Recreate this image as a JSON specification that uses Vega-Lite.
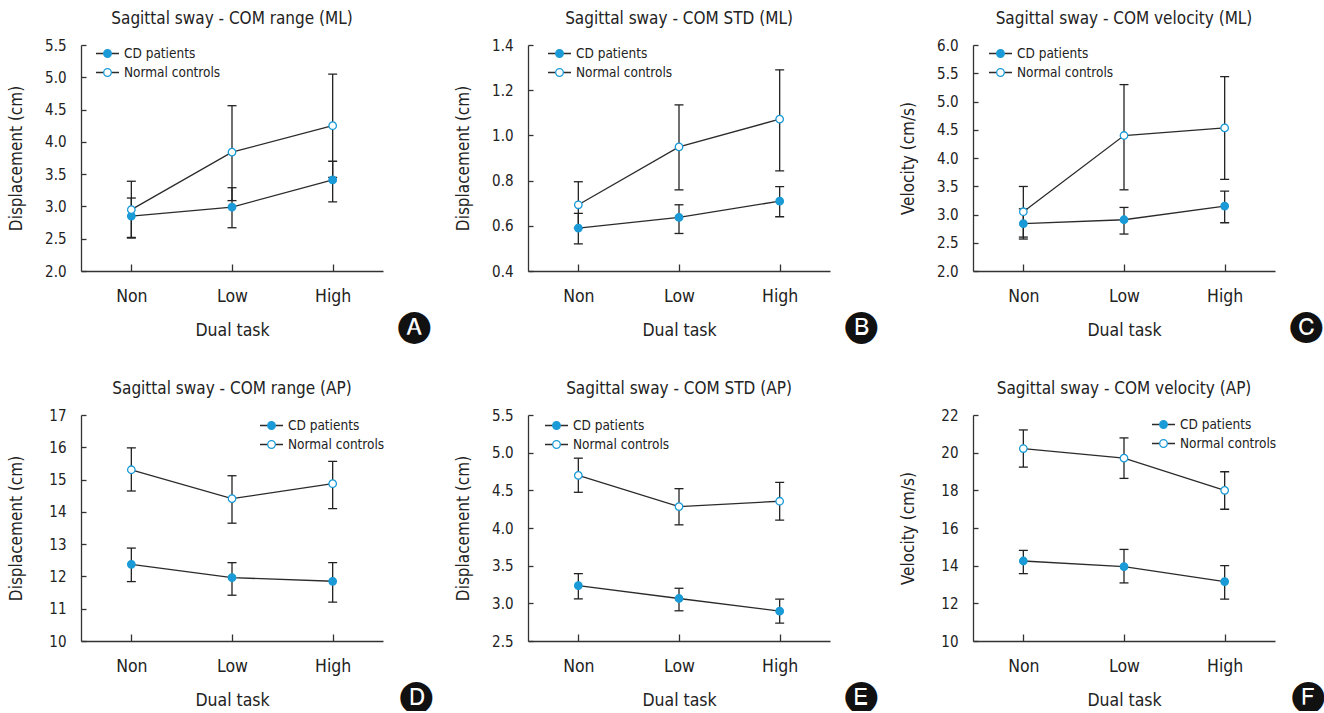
{
  "$schema": "https://vega.github.io/schema/vega-lite/v6.json",
  "background": "white",
  "padding": {"left": 7, "top": 10, "right": 0, "bottom": 0},
  "config": {
    "font": "DejaVu Sans Condensed, sans-serif",
    "view": {"stroke": null},
    "axis": {"grid": false, "domainColor": "#333", "domainWidth": 1.3, "tickColor": "#333", "tickWidth": 1.3, "labelColor": "#222", "titleColor": "#222", "titleFontWeight": "normal", "labelOverlap": false},
    "axisY": {"tickSize": -5, "labelFontSize": 15, "labelPadding": 20, "titleFontSize": 17, "titlePadding": 16, "minExtent": 40, "maxExtent": 40, "labelOverlap": false},
    "axisX": {"tickSize": -7, "labelFontSize": 17.5, "labelAngle": 0, "labelPadding": 23, "titleFontSize": 17.5, "titlePadding": 17},
    "axisQuantitative": {"labelOverlap": false},
    "title": {"fontSize": 17, "fontWeight": "normal", "color": "#222", "offset": 10, "frame": "group"},
    "legend": {"labelFontSize": 13.5, "labelColor": "#222", "rowPadding": -1}
  },
  "datasets": {
    "d": [
      {"panel": "A", "task": "Non", "group": "CD patients", "mean": 2.85, "lower": 2.52, "upper": 3.13},
      {"panel": "A", "task": "Low", "group": "CD patients", "mean": 2.99, "lower": 2.67, "upper": 3.29},
      {"panel": "A", "task": "High", "group": "CD patients", "mean": 3.41, "lower": 3.07, "upper": 3.70},
      {"panel": "A", "task": "Non", "group": "Normal controls", "mean": 2.95, "lower": 2.51, "upper": 3.39},
      {"panel": "A", "task": "Low", "group": "Normal controls", "mean": 3.84, "lower": 3.09, "upper": 4.56},
      {"panel": "A", "task": "High", "group": "Normal controls", "mean": 4.25, "lower": 3.45, "upper": 5.05},
      {"panel": "B", "task": "Non", "group": "CD patients", "mean": 0.59, "lower": 0.52, "upper": 0.655},
      {"panel": "B", "task": "Low", "group": "CD patients", "mean": 0.637, "lower": 0.566, "upper": 0.693},
      {"panel": "B", "task": "High", "group": "CD patients", "mean": 0.709, "lower": 0.64, "upper": 0.773},
      {"panel": "B", "task": "Non", "group": "Normal controls", "mean": 0.693, "lower": 0.59, "upper": 0.795},
      {"panel": "B", "task": "Low", "group": "Normal controls", "mean": 0.949, "lower": 0.759, "upper": 1.135},
      {"panel": "B", "task": "High", "group": "Normal controls", "mean": 1.072, "lower": 0.843, "upper": 1.29},
      {"panel": "C", "task": "Non", "group": "CD patients", "mean": 2.837, "lower": 2.566, "upper": 3.10},
      {"panel": "C", "task": "Low", "group": "CD patients", "mean": 2.907, "lower": 2.654, "upper": 3.125},
      {"panel": "C", "task": "High", "group": "CD patients", "mean": 3.149, "lower": 2.854, "upper": 3.414},
      {"panel": "C", "task": "Non", "group": "Normal controls", "mean": 3.049, "lower": 2.60, "upper": 3.496},
      {"panel": "C", "task": "Low", "group": "Normal controls", "mean": 4.398, "lower": 3.437, "upper": 5.299},
      {"panel": "C", "task": "High", "group": "Normal controls", "mean": 4.533, "lower": 3.62, "upper": 5.44},
      {"panel": "D", "task": "Non", "group": "CD patients", "mean": 12.374, "lower": 11.84, "upper": 12.878},
      {"panel": "D", "task": "Low", "group": "CD patients", "mean": 11.963, "lower": 11.418, "upper": 12.426},
      {"panel": "D", "task": "High", "group": "CD patients", "mean": 11.85, "lower": 11.203, "upper": 12.426},
      {"panel": "D", "task": "Non", "group": "Normal controls", "mean": 15.304, "lower": 14.646, "upper": 15.982},
      {"panel": "D", "task": "Low", "group": "Normal controls", "mean": 14.41, "lower": 13.649, "upper": 15.119},
      {"panel": "D", "task": "High", "group": "Normal controls", "mean": 14.872, "lower": 14.101, "upper": 15.561},
      {"panel": "E", "task": "Non", "group": "CD patients", "mean": 3.236, "lower": 3.059, "upper": 3.394},
      {"panel": "E", "task": "Low", "group": "CD patients", "mean": 3.064, "lower": 2.901, "upper": 3.2},
      {"panel": "E", "task": "High", "group": "CD patients", "mean": 2.896, "lower": 2.738, "upper": 3.055},
      {"panel": "E", "task": "Non", "group": "Normal controls", "mean": 4.698, "lower": 4.474, "upper": 4.927},
      {"panel": "E", "task": "Low", "group": "Normal controls", "mean": 4.284, "lower": 4.042, "upper": 4.522},
      {"panel": "E", "task": "High", "group": "Normal controls", "mean": 4.355, "lower": 4.104, "upper": 4.606},
      {"panel": "F", "task": "Non", "group": "CD patients", "mean": 14.247, "lower": 13.577, "upper": 14.811},
      {"panel": "F", "task": "Low", "group": "CD patients", "mean": 13.947, "lower": 13.084, "upper": 14.863},
      {"panel": "F", "task": "High", "group": "CD patients", "mean": 13.154, "lower": 12.22, "upper": 14.0},
      {"panel": "F", "task": "Non", "group": "Normal controls", "mean": 20.22, "lower": 19.233, "upper": 21.207},
      {"panel": "F", "task": "Low", "group": "Normal controls", "mean": 19.709, "lower": 18.634, "upper": 20.784},
      {"panel": "F", "task": "High", "group": "Normal controls", "mean": 18.0, "lower": 16.996, "upper": 18.987}
    ]
  },
  "columns": 3,
  "spacing": {"column": 21, "row": 39},
  "resolve": {"scale": {"fill": "independent", "opacity": "independent"}, "legend": {"fill": "independent", "opacity": "independent"}},
  "concat": [
    {
      "title": {"text": "🅐", "orient": "bottom", "anchor": "end", "frame": "bounds", "font": "DejaVu Sans", "fontSize": 32, "color": "#111", "dx": 48, "dy": -29, "offset": 0},
      "vconcat": [{
        "width": 302, "height": 226,
        "title": "Sagittal sway - COM range (ML)",
        "data": {"name": "d"},
        "transform": [{"filter": "datum.panel === 'A'"}],
        "encoding": {"x": {"field": "task", "type": "ordinal", "title": "Dual task", "scale": {"type": "point", "domain": ["Non", "Low", "High"], "padding": 0.5}}},
        "layer": [
          {"mark": {"type": "rule", "color": "#222", "strokeWidth": 1.3}, "encoding": {"y": {"field": "lower", "type": "quantitative", "title": "Displacement (cm)", "scale": {"domain": [2, 5.5], "nice": false, "zero": false}, "axis": {"values": [2, 2.5, 3, 3.5, 4, 4.5, 5, 5.5], "format": ".1f", "labelOverlap": false}}, "y2": {"field": "upper"}}},
          {"mark": {"type": "tick", "color": "#222", "thickness": 1.3, "size": 9, "opacity": 1}, "encoding": {"y": {"field": "lower", "type": "quantitative", "title": "Displacement (cm)", "axis": {"values": [2, 2.5, 3, 3.5, 4, 4.5, 5, 5.5], "format": ".1f", "labelOverlap": false}}}},
          {"mark": {"type": "tick", "color": "#222", "thickness": 1.3, "size": 9, "opacity": 1}, "encoding": {"y": {"field": "upper", "type": "quantitative", "title": "Displacement (cm)", "axis": {"values": [2, 2.5, 3, 3.5, 4, 4.5, 5, 5.5], "format": ".1f", "labelOverlap": false}}}},
          {"mark": {"type": "line", "color": "#2b2b2b", "strokeWidth": 1.3}, "encoding": {"y": {"field": "mean", "type": "quantitative", "title": "Displacement (cm)", "axis": {"values": [2, 2.5, 3, 3.5, 4, 4.5, 5, 5.5], "format": ".1f", "labelOverlap": false}}, "opacity": {"field": "group", "type": "nominal", "scale": {"range": [1, 1]}, "legend": {"orient": "none", "legendX": 14, "legendY": -4, "title": null, "padding": 0, "symbolType": "stroke", "symbolSize": 529, "symbolStrokeColor": "#2b2b2b", "symbolStrokeWidth": 1.3, "symbolDash": [7.7, 7.6], "labelOpacity": 0, "labelOffset": 4}}}},
          {"mark": {"type": "point", "shape": "circle", "filled": true, "size": 56, "stroke": "#1a9ad6", "strokeWidth": 1.3, "opacity": 1}, "encoding": {"y": {"field": "mean", "type": "quantitative", "title": "Displacement (cm)", "axis": {"values": [2, 2.5, 3, 3.5, 4, 4.5, 5, 5.5], "format": ".1f", "labelOverlap": false}}, "fill": {"field": "group", "type": "nominal", "scale": {"domain": ["CD patients", "Normal controls"], "range": ["#1a9ad6", "#ffffff"]}, "legend": {"orient": "none", "legendX": 14, "legendY": -4, "title": null, "padding": 0, "symbolType": "M0.33,0A0.33,0.33,0,1,1,-0.33,0A0.33,0.33,0,1,1,0.33,0", "symbolSize": 529, "symbolStrokeColor": "#1a9ad6", "symbolStrokeWidth": 1.3, "labelOffset": 4}}}}
        ]
      }]
    },
    {
      "title": {"text": "🅑", "orient": "bottom", "anchor": "end", "frame": "bounds", "font": "DejaVu Sans", "fontSize": 32, "color": "#111", "dx": 48, "dy": -29, "offset": 0},
      "vconcat": [{
        "width": 302, "height": 226,
        "title": "Sagittal sway - COM STD (ML)",
        "data": {"name": "d"},
        "transform": [{"filter": "datum.panel === 'B'"}],
        "encoding": {"x": {"field": "task", "type": "ordinal", "title": "Dual task", "scale": {"type": "point", "domain": ["Non", "Low", "High"], "padding": 0.5}}},
        "layer": [
          {"mark": {"type": "rule", "color": "#222", "strokeWidth": 1.3}, "encoding": {"y": {"field": "lower", "type": "quantitative", "title": "Displacement (cm)", "scale": {"domain": [0.4, 1.4], "nice": false, "zero": false}, "axis": {"values": [0.4, 0.6, 0.8, 1.0, 1.2, 1.4], "format": ".1f", "labelOverlap": false}}, "y2": {"field": "upper"}}},
          {"mark": {"type": "tick", "color": "#222", "thickness": 1.3, "size": 9, "opacity": 1}, "encoding": {"y": {"field": "lower", "type": "quantitative", "title": "Displacement (cm)", "axis": {"values": [0.4, 0.6, 0.8, 1.0, 1.2, 1.4], "format": ".1f", "labelOverlap": false}}}},
          {"mark": {"type": "tick", "color": "#222", "thickness": 1.3, "size": 9, "opacity": 1}, "encoding": {"y": {"field": "upper", "type": "quantitative", "title": "Displacement (cm)", "axis": {"values": [0.4, 0.6, 0.8, 1.0, 1.2, 1.4], "format": ".1f", "labelOverlap": false}}}},
          {"mark": {"type": "line", "color": "#2b2b2b", "strokeWidth": 1.3}, "encoding": {"y": {"field": "mean", "type": "quantitative", "title": "Displacement (cm)", "axis": {"values": [0.4, 0.6, 0.8, 1.0, 1.2, 1.4], "format": ".1f", "labelOverlap": false}}, "opacity": {"field": "group", "type": "nominal", "scale": {"range": [1, 1]}, "legend": {"orient": "none", "legendX": 19, "legendY": -4, "title": null, "padding": 0, "symbolType": "stroke", "symbolSize": 529, "symbolStrokeColor": "#2b2b2b", "symbolStrokeWidth": 1.3, "symbolDash": [7.7, 7.6], "labelOpacity": 0, "labelOffset": 4}}}},
          {"mark": {"type": "point", "shape": "circle", "filled": true, "size": 56, "stroke": "#1a9ad6", "strokeWidth": 1.3, "opacity": 1}, "encoding": {"y": {"field": "mean", "type": "quantitative", "title": "Displacement (cm)", "axis": {"values": [0.4, 0.6, 0.8, 1.0, 1.2, 1.4], "format": ".1f", "labelOverlap": false}}, "fill": {"field": "group", "type": "nominal", "scale": {"domain": ["CD patients", "Normal controls"], "range": ["#1a9ad6", "#ffffff"]}, "legend": {"orient": "none", "legendX": 19, "legendY": -4, "title": null, "padding": 0, "symbolType": "M0.33,0A0.33,0.33,0,1,1,-0.33,0A0.33,0.33,0,1,1,0.33,0", "symbolSize": 529, "symbolStrokeColor": "#1a9ad6", "symbolStrokeWidth": 1.3, "labelOffset": 4}}}}
        ]
      }]
    },
    {
      "title": {"text": "🅒", "orient": "bottom", "anchor": "end", "frame": "bounds", "font": "DejaVu Sans", "fontSize": 32, "color": "#111", "dx": 48, "dy": -29, "offset": 0},
      "vconcat": [{
        "width": 302, "height": 226,
        "title": "Sagittal sway - COM velocity (ML)",
        "data": {"name": "d"},
        "transform": [{"filter": "datum.panel === 'C'"}],
        "encoding": {"x": {"field": "task", "type": "ordinal", "title": "Dual task", "scale": {"type": "point", "domain": ["Non", "Low", "High"], "padding": 0.5}}},
        "layer": [
          {"mark": {"type": "rule", "color": "#222", "strokeWidth": 1.3}, "encoding": {"y": {"field": "lower", "type": "quantitative", "title": "Velocity (cm/s)", "scale": {"domain": [2, 6], "nice": false, "zero": false}, "axis": {"values": [2, 2.5, 3, 3.5, 4, 4.5, 5, 5.5, 6], "format": ".1f", "labelOverlap": false}}, "y2": {"field": "upper"}}},
          {"mark": {"type": "tick", "color": "#222", "thickness": 1.3, "size": 9, "opacity": 1}, "encoding": {"y": {"field": "lower", "type": "quantitative", "title": "Velocity (cm/s)", "axis": {"values": [2, 2.5, 3, 3.5, 4, 4.5, 5, 5.5, 6], "format": ".1f", "labelOverlap": false}}}},
          {"mark": {"type": "tick", "color": "#222", "thickness": 1.3, "size": 9, "opacity": 1}, "encoding": {"y": {"field": "upper", "type": "quantitative", "title": "Velocity (cm/s)", "axis": {"values": [2, 2.5, 3, 3.5, 4, 4.5, 5, 5.5, 6], "format": ".1f", "labelOverlap": false}}}},
          {"mark": {"type": "line", "color": "#2b2b2b", "strokeWidth": 1.3}, "encoding": {"y": {"field": "mean", "type": "quantitative", "title": "Velocity (cm/s)", "axis": {"values": [2, 2.5, 3, 3.5, 4, 4.5, 5, 5.5, 6], "format": ".1f", "labelOverlap": false}}, "opacity": {"field": "group", "type": "nominal", "scale": {"range": [1, 1]}, "legend": {"orient": "none", "legendX": 15, "legendY": -4, "title": null, "padding": 0, "symbolType": "stroke", "symbolSize": 529, "symbolStrokeColor": "#2b2b2b", "symbolStrokeWidth": 1.3, "symbolDash": [7.7, 7.6], "labelOpacity": 0, "labelOffset": 4}}}},
          {"mark": {"type": "point", "shape": "circle", "filled": true, "size": 56, "stroke": "#1a9ad6", "strokeWidth": 1.3, "opacity": 1}, "encoding": {"y": {"field": "mean", "type": "quantitative", "title": "Velocity (cm/s)", "axis": {"values": [2, 2.5, 3, 3.5, 4, 4.5, 5, 5.5, 6], "format": ".1f", "labelOverlap": false}}, "fill": {"field": "group", "type": "nominal", "scale": {"domain": ["CD patients", "Normal controls"], "range": ["#1a9ad6", "#ffffff"]}, "legend": {"orient": "none", "legendX": 15, "legendY": -4, "title": null, "padding": 0, "symbolType": "M0.33,0A0.33,0.33,0,1,1,-0.33,0A0.33,0.33,0,1,1,0.33,0", "symbolSize": 529, "symbolStrokeColor": "#1a9ad6", "symbolStrokeWidth": 1.3, "labelOffset": 4}}}}
        ]
      }]
    },
    {
      "title": {"text": "🅓", "orient": "bottom", "anchor": "end", "frame": "bounds", "font": "DejaVu Sans", "fontSize": 32, "color": "#111", "dx": 48, "dy": -29, "offset": 0},
      "vconcat": [{
        "width": 302, "height": 226,
        "title": "Sagittal sway - COM range (AP)",
        "data": {"name": "d"},
        "transform": [{"filter": "datum.panel === 'D'"}],
        "encoding": {"x": {"field": "task", "type": "ordinal", "title": "Dual task", "scale": {"type": "point", "domain": ["Non", "Low", "High"], "padding": 0.5}}},
        "layer": [
          {"mark": {"type": "rule", "color": "#222", "strokeWidth": 1.3}, "encoding": {"y": {"field": "lower", "type": "quantitative", "title": "Displacement (cm)", "scale": {"domain": [10, 17], "nice": false, "zero": false}, "axis": {"values": [10, 11, 12, 13, 14, 15, 16, 17], "format": "d", "labelOverlap": false}}, "y2": {"field": "upper"}}},
          {"mark": {"type": "tick", "color": "#222", "thickness": 1.3, "size": 9, "opacity": 1}, "encoding": {"y": {"field": "lower", "type": "quantitative", "title": "Displacement (cm)", "axis": {"values": [10, 11, 12, 13, 14, 15, 16, 17], "format": "d", "labelOverlap": false}}}},
          {"mark": {"type": "tick", "color": "#222", "thickness": 1.3, "size": 9, "opacity": 1}, "encoding": {"y": {"field": "upper", "type": "quantitative", "title": "Displacement (cm)", "axis": {"values": [10, 11, 12, 13, 14, 15, 16, 17], "format": "d", "labelOverlap": false}}}},
          {"mark": {"type": "line", "color": "#2b2b2b", "strokeWidth": 1.3}, "encoding": {"y": {"field": "mean", "type": "quantitative", "title": "Displacement (cm)", "axis": {"values": [10, 11, 12, 13, 14, 15, 16, 17], "format": "d", "labelOverlap": false}}, "opacity": {"field": "group", "type": "nominal", "scale": {"range": [1, 1]}, "legend": {"orient": "none", "legendX": 178, "legendY": -2, "title": null, "padding": 0, "symbolType": "stroke", "symbolSize": 529, "symbolStrokeColor": "#2b2b2b", "symbolStrokeWidth": 1.3, "symbolDash": [7.7, 7.6], "labelOpacity": 0, "labelOffset": 4}}}},
          {"mark": {"type": "point", "shape": "circle", "filled": true, "size": 56, "stroke": "#1a9ad6", "strokeWidth": 1.3, "opacity": 1}, "encoding": {"y": {"field": "mean", "type": "quantitative", "title": "Displacement (cm)", "axis": {"values": [10, 11, 12, 13, 14, 15, 16, 17], "format": "d", "labelOverlap": false}}, "fill": {"field": "group", "type": "nominal", "scale": {"domain": ["CD patients", "Normal controls"], "range": ["#1a9ad6", "#ffffff"]}, "legend": {"orient": "none", "legendX": 178, "legendY": -2, "title": null, "padding": 0, "symbolType": "M0.33,0A0.33,0.33,0,1,1,-0.33,0A0.33,0.33,0,1,1,0.33,0", "symbolSize": 529, "symbolStrokeColor": "#1a9ad6", "symbolStrokeWidth": 1.3, "labelOffset": 4}}}}
        ]
      }]
    },
    {
      "title": {"text": "🅔", "orient": "bottom", "anchor": "end", "frame": "bounds", "font": "DejaVu Sans", "fontSize": 32, "color": "#111", "dx": 48, "dy": -29, "offset": 0},
      "vconcat": [{
        "width": 302, "height": 226,
        "title": "Sagittal sway - COM STD (AP)",
        "data": {"name": "d"},
        "transform": [{"filter": "datum.panel === 'E'"}],
        "encoding": {"x": {"field": "task", "type": "ordinal", "title": "Dual task", "scale": {"type": "point", "domain": ["Non", "Low", "High"], "padding": 0.5}}},
        "layer": [
          {"mark": {"type": "rule", "color": "#222", "strokeWidth": 1.3}, "encoding": {"y": {"field": "lower", "type": "quantitative", "title": "Displacement (cm)", "scale": {"domain": [2.5, 5.5], "nice": false, "zero": false}, "axis": {"values": [2.5, 3, 3.5, 4, 4.5, 5, 5.5], "format": ".1f", "labelOverlap": false}}, "y2": {"field": "upper"}}},
          {"mark": {"type": "tick", "color": "#222", "thickness": 1.3, "size": 9, "opacity": 1}, "encoding": {"y": {"field": "lower", "type": "quantitative", "title": "Displacement (cm)", "axis": {"values": [2.5, 3, 3.5, 4, 4.5, 5, 5.5], "format": ".1f", "labelOverlap": false}}}},
          {"mark": {"type": "tick", "color": "#222", "thickness": 1.3, "size": 9, "opacity": 1}, "encoding": {"y": {"field": "upper", "type": "quantitative", "title": "Displacement (cm)", "axis": {"values": [2.5, 3, 3.5, 4, 4.5, 5, 5.5], "format": ".1f", "labelOverlap": false}}}},
          {"mark": {"type": "line", "color": "#2b2b2b", "strokeWidth": 1.3}, "encoding": {"y": {"field": "mean", "type": "quantitative", "title": "Displacement (cm)", "axis": {"values": [2.5, 3, 3.5, 4, 4.5, 5, 5.5], "format": ".1f", "labelOverlap": false}}, "opacity": {"field": "group", "type": "nominal", "scale": {"range": [1, 1]}, "legend": {"orient": "none", "legendX": 16, "legendY": -2, "title": null, "padding": 0, "symbolType": "stroke", "symbolSize": 529, "symbolStrokeColor": "#2b2b2b", "symbolStrokeWidth": 1.3, "symbolDash": [7.7, 7.6], "labelOpacity": 0, "labelOffset": 4}}}},
          {"mark": {"type": "point", "shape": "circle", "filled": true, "size": 56, "stroke": "#1a9ad6", "strokeWidth": 1.3, "opacity": 1}, "encoding": {"y": {"field": "mean", "type": "quantitative", "title": "Displacement (cm)", "axis": {"values": [2.5, 3, 3.5, 4, 4.5, 5, 5.5], "format": ".1f", "labelOverlap": false}}, "fill": {"field": "group", "type": "nominal", "scale": {"domain": ["CD patients", "Normal controls"], "range": ["#1a9ad6", "#ffffff"]}, "legend": {"orient": "none", "legendX": 16, "legendY": -2, "title": null, "padding": 0, "symbolType": "M0.33,0A0.33,0.33,0,1,1,-0.33,0A0.33,0.33,0,1,1,0.33,0", "symbolSize": 529, "symbolStrokeColor": "#1a9ad6", "symbolStrokeWidth": 1.3, "labelOffset": 4}}}}
        ]
      }]
    },
    {
      "title": {"text": "🅕", "orient": "bottom", "anchor": "end", "frame": "bounds", "font": "DejaVu Sans", "fontSize": 32, "color": "#111", "dx": 48, "dy": -29, "offset": 0},
      "vconcat": [{
        "width": 302, "height": 226,
        "title": "Sagittal sway - COM velocity (AP)",
        "data": {"name": "d"},
        "transform": [{"filter": "datum.panel === 'F'"}],
        "encoding": {"x": {"field": "task", "type": "ordinal", "title": "Dual task", "scale": {"type": "point", "domain": ["Non", "Low", "High"], "padding": 0.5}}},
        "layer": [
          {"mark": {"type": "rule", "color": "#222", "strokeWidth": 1.3}, "encoding": {"y": {"field": "lower", "type": "quantitative", "title": "Velocity (cm/s)", "scale": {"domain": [10, 22], "nice": false, "zero": false}, "axis": {"values": [10, 12, 14, 16, 18, 20, 22], "format": "d", "labelOverlap": false}}, "y2": {"field": "upper"}}},
          {"mark": {"type": "tick", "color": "#222", "thickness": 1.3, "size": 9, "opacity": 1}, "encoding": {"y": {"field": "lower", "type": "quantitative", "title": "Velocity (cm/s)", "axis": {"values": [10, 12, 14, 16, 18, 20, 22], "format": "d", "labelOverlap": false}}}},
          {"mark": {"type": "tick", "color": "#222", "thickness": 1.3, "size": 9, "opacity": 1}, "encoding": {"y": {"field": "upper", "type": "quantitative", "title": "Velocity (cm/s)", "axis": {"values": [10, 12, 14, 16, 18, 20, 22], "format": "d", "labelOverlap": false}}}},
          {"mark": {"type": "line", "color": "#2b2b2b", "strokeWidth": 1.3}, "encoding": {"y": {"field": "mean", "type": "quantitative", "title": "Velocity (cm/s)", "axis": {"values": [10, 12, 14, 16, 18, 20, 22], "format": "d", "labelOverlap": false}}, "opacity": {"field": "group", "type": "nominal", "scale": {"range": [1, 1]}, "legend": {"orient": "none", "legendX": 178, "legendY": -3, "title": null, "padding": 0, "symbolType": "stroke", "symbolSize": 529, "symbolStrokeColor": "#2b2b2b", "symbolStrokeWidth": 1.3, "symbolDash": [7.7, 7.6], "labelOpacity": 0, "labelOffset": 4}}}},
          {"mark": {"type": "point", "shape": "circle", "filled": true, "size": 56, "stroke": "#1a9ad6", "strokeWidth": 1.3, "opacity": 1}, "encoding": {"y": {"field": "mean", "type": "quantitative", "title": "Velocity (cm/s)", "axis": {"values": [10, 12, 14, 16, 18, 20, 22], "format": "d", "labelOverlap": false}}, "fill": {"field": "group", "type": "nominal", "scale": {"domain": ["CD patients", "Normal controls"], "range": ["#1a9ad6", "#ffffff"]}, "legend": {"orient": "none", "legendX": 178, "legendY": -3, "title": null, "padding": 0, "symbolType": "M0.33,0A0.33,0.33,0,1,1,-0.33,0A0.33,0.33,0,1,1,0.33,0", "symbolSize": 529, "symbolStrokeColor": "#1a9ad6", "symbolStrokeWidth": 1.3, "labelOffset": 4}}}}
        ]
      }]
    }
  ]
}
